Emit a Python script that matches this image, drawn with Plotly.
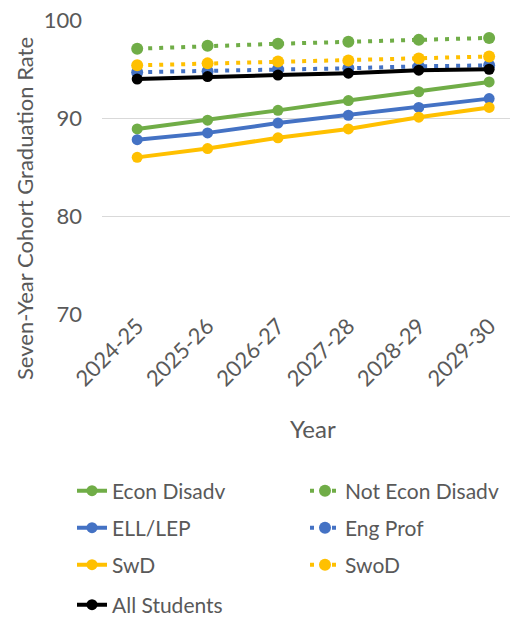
import plotly.graph_objects as go

years = ["2024-25", "2025-26", "2026-27", "2027-28", "2028-29", "2029-30"]

econ_disadv = [88.9, 89.8, 90.8, 91.8, 92.7, 93.7]
not_econ_disadv = [97.1, 97.4, 97.6, 97.8, 98.0, 98.2]
ell_lep = [87.8, 88.5, 89.5, 90.3, 91.1, 92.0]
eng_prof = [94.7, 94.8, 95.0, 95.1, 95.3, 95.4]
swd = [86.0, 86.9, 88.0, 88.9, 90.1, 91.1]
swod = [95.4, 95.6, 95.8, 95.9, 96.1, 96.3]
all_students = [94.0, 94.25, 94.4, 94.6, 94.9, 95.0]
y_ticks = [70, 80, 90, 100]

GREEN = "#70AD47"
BLUE = "#4472C4"
GOLD = "#FFC000"
BLACK = "#000000"
FONT = "Lato"
TXT = "#595959"

series = [
    ("Econ Disadv", econ_disadv, GREEN, "solid"),
    ("Not Econ Disadv", not_econ_disadv, GREEN, "dot"),
    ("ELL/LEP", ell_lep, BLUE, "solid"),
    ("Eng Prof", eng_prof, BLUE, "dot"),
    ("SwD", swd, GOLD, "solid"),
    ("SwoD", swod, GOLD, "dot"),
    ("All Students", all_students, BLACK, "solid"),
]

# the page body adds an 8px offset; work in page pixels and subtract it
OFF = 8
W, H = 518 - OFF, 617 - OFF
L, R, T = 102 - OFF, 0, 20 - OFF
PLOT_BOTTOM = 314 - OFF
B = H - PLOT_BOTTOM
PW, PH = W - L - R, PLOT_BOTTOM - T

# legend slot positions (text start x, row centre y) in page pixels
legend_slots = [(112, 491), (345, 491), (112, 528), (345, 528),
                (112, 565), (345, 565), (112, 605)]

fig = go.Figure()
order = [1, 3, 5, 0, 2, 4, 6]
for i in order:
    name, vals, col, style = series[i]
    if style == "dot":
        line = dict(color=col, width=4, dash="4px,7px")
        msize = 12
    else:
        line = dict(color=col, width=4)
        msize = 11
    fig.add_trace(go.Scatter(
        x=years, y=vals, name=name, mode="lines+markers",
        line=line, marker=dict(color=col, size=msize),
        legend="legend" if i == 0 else f"legend{i + 1}",
        cliponaxis=False,
    ))

legends = {}
for i, (tx, ty) in enumerate(legend_slots):
    key = "legend" if i == 0 else f"legend{i + 1}"
    legends[key] = dict(
        orientation="h",
        x=(tx - OFF - 40 - L) / PW, y=(PLOT_BOTTOM - (ty - OFF)) / PH,
        xanchor="left", yanchor="middle",
        font=dict(family=FONT, size=21, color=TXT),
        bgcolor="rgba(0,0,0,0)", borderwidth=0,
        itemwidth=30,
    )

fig.update_layout(
    width=W, height=H,
    margin=dict(l=L, r=R, t=T, b=B, pad=0, autoexpand=False),
    paper_bgcolor="white", plot_bgcolor="white",
    font=dict(family=FONT, size=21, color=TXT),
    showlegend=True,
    xaxis=dict(
        type="category", range=[-0.5, 5.41],
        showgrid=False, zeroline=False, showline=False,
        tickangle=-45, ticks="", ticklabelstandoff=-6,
        automargin=False,
        tickfont=dict(family=FONT, size=22, color=TXT),
    ),
    yaxis=dict(
        range=[70, 100.03], tickvals=y_ticks,
        showgrid=True, gridcolor="#D9D9D9", gridwidth=1.3,
        zeroline=False, showline=False, ticks="",
        ticklabelstandoff=19, automargin=False,
        ticklabeloverflow="allow",
        tickfont=dict(family=FONT, size=22, color=TXT),
    ),
    annotations=[
        dict(text="Seven-Year Cohort Graduation Rate", textangle=-90,
             xref="paper", yref="paper",
             x=(25 - OFF - L) / PW, y=(PLOT_BOTTOM - (209 - OFF)) / PH,
             xanchor="center", yanchor="middle", showarrow=False,
             font=dict(family=FONT, size=22, color=TXT)),
        dict(text="Year", xref="paper", yref="paper",
             x=(313 - OFF - L) / PW, y=(PLOT_BOTTOM - (428 - OFF)) / PH,
             xanchor="center", yanchor="middle", showarrow=False,
             font=dict(family=FONT, size=24, color=TXT)),
    ],
    **legends,
)

fig.write_html("out.html")
